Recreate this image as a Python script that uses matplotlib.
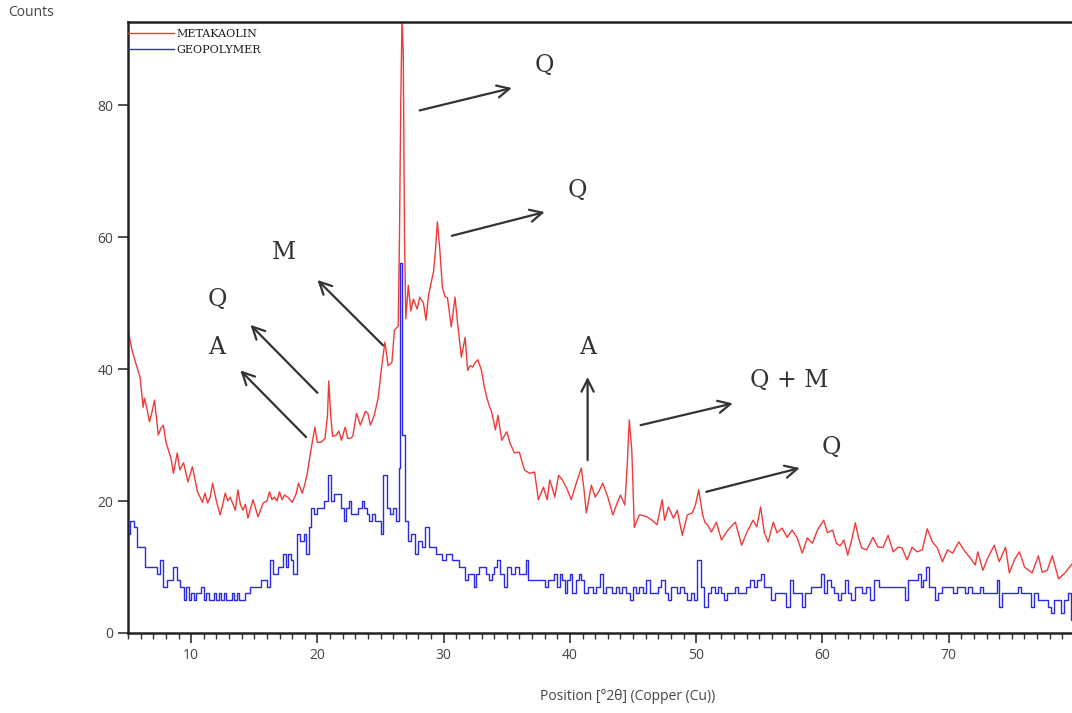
#!/usr/bin/env python3

import numpy as np
import matplotlib
matplotlib.use('Agg')
import matplotlib.pyplot as plt
from matplotlib.ticker import MultipleLocator

# metakaolin pattern (red)
meta_x = [5.0, 5.3, 5.6, 5.95, 6.2, 6.3, 6.5, 6.7, 6.9, 7.1, 7.4, 7.6, 7.8, 8.0, 8.2, 8.4, 8.6, 8.9, 9.1, 9.4,
          9.75, 10.1, 10.5, 10.9, 11.1, 11.3, 11.5, 11.7, 12.0, 12.3, 12.5, 12.7, 12.9, 13.1, 13.5, 13.7, 13.9,
          14.1, 14.3, 14.5, 14.9, 15.3, 15.7, 16.0, 16.2, 16.4, 16.6, 16.8, 17.0, 17.2, 17.4, 17.7, 18.0, 18.3,
          18.5, 18.8, 19.0, 19.2, 19.4, 19.6, 19.8, 20.0, 20.3, 20.6, 20.8, 20.9, 21.05, 21.2, 21.5, 21.7, 21.9,
          22.2, 22.4, 22.6, 22.8, 23.1, 23.4, 23.6, 23.8, 24.0, 24.2, 24.5, 24.8, 25.1, 25.35, 25.6, 25.9, 26.1,
          26.4, 26.5, 26.6, 26.7, 26.8, 26.9, 27.0, 27.2, 27.4, 27.6, 27.9, 28.1, 28.4, 28.6, 28.8, 29.0, 29.2,
          29.35, 29.5, 29.7, 29.9, 30.1, 30.3, 30.6, 30.9, 31.1, 31.4, 31.7, 31.9, 32.1, 32.3, 32.5, 32.7, 33.0,
          33.2, 33.4, 33.6, 33.8, 34.1, 34.3, 34.6, 35.0, 35.25, 35.6, 36.0, 36.2, 36.4, 36.8, 37.2, 37.5, 37.9,
          38.2, 38.4, 38.6, 38.8, 39.1, 39.4, 39.8, 40.1, 40.5, 40.9, 41.1, 41.3, 41.7, 42.0, 42.3, 42.6, 43.0,
          43.4, 43.7, 44.0, 44.35, 44.55, 44.7, 44.9, 45.1, 45.3, 45.5, 45.8, 46.1, 46.5, 46.9, 47.3, 47.5, 47.8,
          48.2, 48.5, 48.9, 49.3, 49.7, 49.95, 50.2, 50.5, 50.7, 50.9, 51.2, 51.6, 52.0, 52.4, 52.7, 53.1, 53.6,
          54.0, 54.5, 54.8, 55.1, 55.4, 55.7, 56.1, 56.4, 56.8, 57.2, 57.6, 58.0, 58.4, 58.8, 59.2, 59.6, 60.1,
          60.4, 60.8, 61.1, 61.4, 61.7, 62.0, 62.3, 62.6, 62.85, 63.1, 63.5, 64.0, 64.4, 64.8, 65.2, 65.6, 66.0,
          66.3, 66.7, 67.1, 67.5, 67.9, 68.3, 68.7, 69.1, 69.5, 69.9, 70.3, 70.8, 71.3, 71.7, 72.1, 72.3, 72.7,
          73.1, 73.6, 74.0, 74.5, 74.8, 75.2, 75.6, 76.0, 76.6, 77.1, 77.4, 77.8, 78.2, 78.7, 79.2, 79.7, 80.0]
meta_y = [46, 43, 41, 38.8, 34.2, 35.6, 34, 32, 33.5, 35.3, 30, 31, 31.5, 29, 27.7, 26.5, 24.2, 27.3, 24.7, 25.8,
          22.9, 25.2, 21.4, 19.8, 21.2, 19.7, 20.5, 22.7, 20, 17.9, 19.5, 21.2, 20, 20.6, 18.6, 21.7, 19.5,
          18.6, 19.5, 17.4, 20.2, 17.6, 19.7, 20, 21.4, 20.2, 20.6, 20.0, 21.4, 20.2, 20.9, 20.5, 19.8, 21.0,
          22.7, 21.2, 22.5, 24.2, 26.7, 29, 31.2, 28.9, 28.9, 29.5, 33, 38.2, 33, 29.8, 30, 30.6, 29.2,
          31.2, 29.5, 29.5, 29.8, 33.3, 31.5, 32.5, 33.6, 33.3, 31.5, 33, 35.5, 40.5, 44.1, 40.5, 41, 45.9,
          46.5, 60, 80, 93, 88, 60, 47.6, 52.7, 48.8, 50.6, 49.1, 50.9, 50, 47.4, 51.2, 53, 54.8,
          58, 62.3, 58, 52.4, 51, 50.8, 46.4, 50.9, 47, 41.8, 44.8, 39.8, 40.5, 40.3, 41, 41.4, 39.8,
          37.5, 35.8, 34.5, 33.5, 30.8, 33, 29.2, 30.5, 28.8, 27.3, 27.4, 26, 24.7, 24.2, 24.4, 20.2, 22.1,
          20.2, 23.2, 22, 20.6, 23.9, 23.2, 21.7, 20.2, 22.7, 25, 22, 18.2, 22.4, 20.6, 21.5, 22.7, 20.6,
          17.9, 19.5, 20.9, 19.4, 26, 32.3, 27.7, 16, 17, 17.9, 17.8, 17.6, 17.1, 16.4, 20.2, 17.1, 19.1,
          17.4, 18.6, 14.8, 17.9, 18.2, 19.5, 21.7, 18, 16.7, 16.4, 15.3, 16.8, 14.1, 15.3, 16, 16.8, 13.3,
          15.2, 17.1, 16.1, 19.1, 15.2, 13.8, 16.8, 15.2, 15.9, 14.5, 15.6, 14.4, 12.1, 14.4, 13.6, 15.6, 17.1,
          15.2, 15.6, 13.6, 13.2, 14.1, 11.8, 14, 16.7, 14.5, 12.9, 12.6, 14.5, 13.0, 13.0, 14.8, 12.3, 13.0,
          12.9, 11.1, 13.0, 12.3, 12.6, 15.8, 13.8, 12.9, 10.8, 12.6, 12.1, 13.8, 12.3, 11.4, 10.3, 12.3, 9.5,
          11.4, 13.3, 10.8, 13.0, 9.1, 11.1, 12.3, 10.0, 9.1, 11.7, 9.2, 9.5, 11.7, 8.2, 9.1, 10.3, 11]

# geopolymer pattern (blue), stepped counts
geo_x = [5.0, 5.3, 5.6, 5.9, 6.2, 6.5, 6.9, 7.2, 7.4, 7.7, 7.9, 8.2, 8.5, 8.7, 9.0, 9.3, 9.5, 9.7, 9.9, 10.1,
         10.3, 10.5, 10.7, 10.9, 11.1, 11.3, 11.5, 11.7, 11.9, 12.1, 12.3, 12.5, 12.7, 12.9, 13.1, 13.3, 13.5,
         13.7, 13.9, 14.1, 14.5, 14.8, 15.1, 15.4,
         15.6, 15.9, 16.1, 16.4, 16.6, 16.8, 17.0, 17.2, 17.4, 17.6, 17.8, 18.0, 18.2, 18.5, 18.8, 19.0, 19.2,
         19.4, 19.6, 19.8, 20.1, 20.4, 20.7, 21.0, 21.2, 21.5, 21.8, 22.0, 22.2, 22.4, 22.6, 22.8, 23.1, 23.4,
         23.6, 23.8, 24.0, 24.2, 24.4, 24.7, 24.9, 25.1, 25.35, 25.6, 25.9, 26.1, 26.4, 26.5, 26.65, 26.8, 27.0,
         27.3, 27.6, 27.9, 28.1, 28.4, 28.7, 28.9, 29.1, 29.3, 29.5, 29.7, 30.0, 30.3, 30.5, 30.8, 31.1, 31.3,
         31.6, 31.8, 32.1, 32.3, 32.5, 32.7, 32.9, 33.2, 33.5, 33.7, 33.9, 34.1, 34.3, 34.6, 34.9, 35.2, 35.5,
         35.8, 36.1, 36.4, 36.6, 36.8, 37.2, 37.6, 37.9, 38.2, 38.4, 38.6, 38.8, 39.1, 39.3, 39.5, 39.7, 39.9,
         40.1, 40.3, 40.6, 40.8, 41.0, 41.3, 41.5, 41.7, 42.0, 42.2, 42.5, 42.7, 43.0, 43.2, 43.5, 43.8, 44.0,
         44.3, 44.6, 44.9, 45.1, 45.3, 45.6, 45.9, 46.2, 46.5, 46.8, 47.1, 47.4, 47.7, 47.9, 48.1, 48.4, 48.6,
         48.9, 49.1, 49.4, 49.7, 49.9, 50.2, 50.5, 50.8, 51.0, 51.3, 51.6, 51.8, 52.1, 52.3, 52.6, 52.9, 53.2,
         53.5, 53.8, 54.1, 54.4, 54.7, 55.0, 55.2, 55.5, 55.8, 56.1, 56.4, 56.7, 57.0, 57.3, 57.5, 57.8, 58.0,
         58.3, 58.5, 58.8, 59.0, 59.2, 59.5, 59.8, 60.0, 60.2, 60.5, 60.8, 61.1, 61.4, 61.6, 61.9, 62.1, 62.4,
         62.7, 63.0, 63.3, 63.6, 63.9, 64.3, 64.6, 65.0, 65.3, 65.7, 66.0, 66.4, 66.7, 66.9, 67.2, 67.5, 67.7,
         67.9, 68.1, 68.3, 68.5, 68.8, 69.0, 69.3, 69.6, 69.9, 70.2, 70.5, 70.8, 71.1, 71.4, 71.7, 72.0, 72.3,
         72.6, 72.9, 73.2, 73.5, 73.7, 73.9, 74.1, 74.4, 74.7, 75.0, 75.3, 75.6, 75.9, 76.1, 76.4, 76.6, 76.9,
         77.2, 77.5, 77.8, 78.0, 78.2, 78.5, 78.8, 79.0, 79.3, 79.6, 79.8]
geo_y = [15, 17, 16, 13, 13, 10, 10, 10, 9, 11, 7, 8, 8, 10, 8, 7, 5, 7, 5, 6,
         5, 6, 6, 7, 5, 6, 5, 5, 6, 5, 6, 5, 6, 5, 5, 6, 5,
         6, 5, 5, 6, 7, 7, 7,
         8, 8, 7, 11, 9, 9, 10, 10, 12, 10, 12, 11, 9, 15, 14, 15, 12,
         16, 19, 18, 19, 19, 20, 24, 20, 21, 21, 19, 17, 19, 20, 18, 18, 19,
         20, 19, 18, 17, 18, 17, 17, 15, 24, 19, 18, 19, 17, 25, 56, 30, 17,
         14, 15, 12, 14, 13, 16, 13, 13, 13, 12, 12, 11, 12, 12, 11, 11, 10,
         10, 8, 9, 9, 7, 9, 10, 10, 9, 8, 9, 10, 11, 9, 7, 10, 9,
         10, 9, 9, 11, 8, 8, 8, 8, 7, 8, 8, 9, 7, 9, 8, 6, 8,
         9, 6, 8, 9, 8, 6, 7, 7, 6, 7, 9, 6, 7, 7, 6, 7, 6,
         7, 6, 5, 7, 6, 7, 6, 8, 6, 6, 7, 8, 6, 5, 7, 7, 6,
         7, 6, 5, 6, 5, 11, 7, 4, 6, 7, 6, 7, 6, 5, 6, 6, 7,
         6, 6, 7, 8, 7, 8, 9, 7, 7, 5, 6, 6, 6, 4, 8, 6, 6,
         6, 4, 6, 6, 7, 7, 7, 9, 6, 8, 7, 6, 5, 6, 8, 6, 5,
         7, 7, 6, 7, 5, 8, 7, 7, 7, 7, 7, 7, 5, 8, 8, 8, 9,
         7, 8, 10, 7, 7, 5, 6, 7, 7, 7, 6, 7, 7, 6, 7, 6, 6,
         7, 6, 6, 6, 6, 8, 4, 6, 6, 6, 6, 7, 6, 6, 6, 4, 6,
         5, 5, 5, 4, 3, 5, 5, 3, 5, 6, 2]

series_labels = ['METAKAOLIN', 'GEOPOLYMER']

# phase labels: text, text position, arrow tail, arrow head
phase_labels = ['Q', 'Q', 'M', 'Q', 'A', 'A', 'Q + M', 'Q']
label_pos = [(38.0, 86.1), (40.6, 67.1), (17.35, 57.7), (12.1, 50.5), (12.05, 43.3), (41.4, 43.3),
             (57.4, 38.3), (60.7, 28.2)]
arrow_tail = [(28.1, 79.2), (30.65, 60.2), (25.2, 43.6), (20.0, 36.4), (19.1, 29.7), (41.4, 26.2),
              (45.6, 31.5), (50.8, 21.4)]
arrow_head = [(35.4, 82.6), (38.0, 63.8), (20.0, 53.5), (14.7, 46.7), (13.9, 39.8), (41.4, 38.8),
              (52.9, 34.8), (58.2, 25.0)]

W, H = 1072, 713


def graph():
    fig = plt.figure(figsize=(W / 100, H / 100), dpi=100)
    ax = fig.add_axes([128 / W, 80 / H, 947 / W, 611 / H])

    ax.plot(meta_x, meta_y, color='#f03a3a', lw=1.0, label=series_labels[0])
    ax.plot(geo_x, geo_y, color='#2a2ae6', lw=1.0, drawstyle='steps-mid', label=series_labels[1])

    ax.set_xlim(5, 80)
    ax.set_ylim(0, 92.6)

    # spines like the diffractometer software
    for side in ['left', 'bottom', 'top']:
        ax.spines[side].set_linewidth(1.8)
        ax.spines[side].set_color('#222222')
    ax.spines['right'].set_visible(False)

    ax.xaxis.set_major_locator(MultipleLocator(10))
    ax.xaxis.set_minor_locator(MultipleLocator(1))
    ax.yaxis.set_major_locator(MultipleLocator(20))
    ax.tick_params(axis='both', which='major', direction='out', length=7, width=1.2, color='#333333',
                   labelsize=10, labelcolor='#444444')
    ax.tick_params(axis='x', which='minor', direction='out', length=4, width=1.0, color='#333333')
    ax.set_xticks([10, 20, 30, 40, 50, 60, 70])
    for lbl in ax.get_xticklabels() + ax.get_yticklabels():
        lbl.set_family('Open Sans')

    fig.text(8 / W, 1 - 12 / H, 'Counts', fontsize=10, color='#444444', family='Open Sans', va='center')
    fig.text(628 / W, 1 - 697 / H, 'Position [°2θ] (Copper (Cu))', fontsize=10, color='#444444',
             family='Open Sans', ha='center', va='center')

    leg = ax.legend(loc='upper left', bbox_to_anchor=(0, 0.988), frameon=False, borderpad=0,
                    borderaxespad=0, handlelength=4.1, handletextpad=0.25, labelspacing=0.5,
                    prop={'family': 'DejaVu Serif', 'size': 8})
    for t in leg.get_texts():
        t.set_color('#1a1a1a')

    for txt, pos, tail, head in zip(phase_labels, label_pos, arrow_tail, arrow_head):
        ax.annotate('', xy=head, xytext=tail,
                    arrowprops=dict(arrowstyle='->', lw=1.6, color='#333333', mutation_scale=22,
                                    shrinkA=0, shrinkB=0))
        ax.text(pos[0], pos[1], txt, fontsize=17, family='DejaVu Serif', color='#333333',
                ha='center', va='center')

    plt.savefig('out.png', dpi=100)


def main():
    graph()


if __name__ == "__main__":
    main()
